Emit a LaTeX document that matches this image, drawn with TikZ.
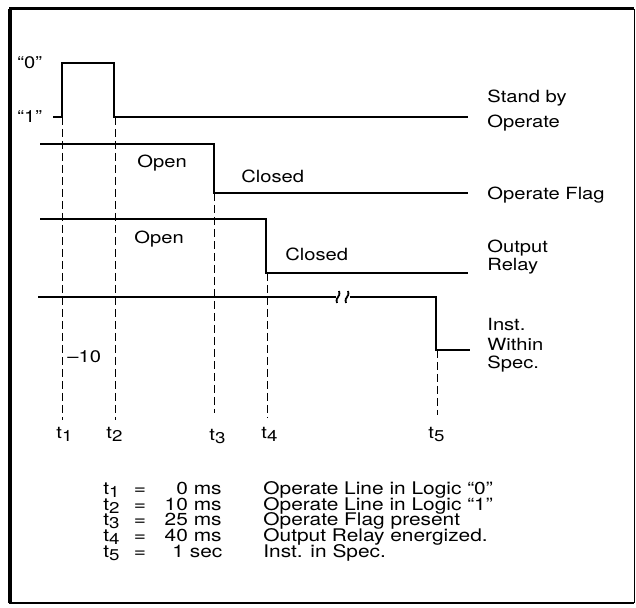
\documentclass[tikz,border=0pt]{standalone}
\usepackage{fontspec}
\setmainfont{TeX Gyre Heros}[FakeStretch=1.2]
\newcommand{\tlab}[1]{t\raisebox{-0.35ex}{\fontsize{7.8}{8}\selectfont #1}}
\begin{document}
\begin{tikzpicture}[x=0.5pt,y=-0.5pt,
	sig/.style={line width=1.2pt,line join=miter},
	guide/.style={line width=0.5pt,dash pattern=on 4pt off 2pt},
	legend/.style={font=\fontsize{8.7}{9.5}\selectfont},
	every node/.style={font=\fontsize{8.4}{9.5}\selectfont,inner sep=0pt}]
	\useasboundingbox (0,0) rectangle (636,608);
	% frame
	\draw [line width=2pt] (10,603) -- (10,9);
	\draw [line width=1.5pt] (9,9) -- (634,9);
	\draw [line width=0.5pt] (634,9) -- (634,603);
	\draw [line width=1pt] (9,603) -- (634,603);
	% signals
	\draw [sig] (53,117) -- (62,117) -- (62,63) -- (114,63) -- (114,117) -- (468,117);
	\draw [sig] (40,144) -- (214,144) -- (214,193) -- (468,193);
	\draw [sig] (40,219) -- (266,219) -- (266,273) -- (468,273);
	\draw [sig] (38,297) -- (336,297);
	\draw [sig] (350,297) -- (436,297) -- (436,350) -- (470,350);
	\draw [line width=0.9pt] (337,303) .. controls (335,296) and (341,298) .. (339,291);
	\draw [line width=0.9pt] (346,303) .. controls (344,296) and (350,298) .. (348,291);
	% time markers
	\draw [guide] (62,117) -- (62,420);\node [anchor=base west] (t1) at (56,438) {\tlab{1}};
	\draw [guide] (115,117) -- (115,420);\node [anchor=base west] (t2) at (106,438) {\tlab{2}};
	\draw [guide] (214,193) -- (214,413);\node [anchor=base west] (t3) at (209,440) {\tlab{3}};
	\draw [guide] (267,273) -- (267,418);\node [anchor=base west] (t4) at (261,438) {\tlab{4}};
	\draw [guide] (437,350) -- (437,415);\node [anchor=base west] (t5) at (428,438) {\tlab{5}};
	\node [anchor=base west] (m10) at (67,363) {--10};
	% levels and states
	\node [anchor=base west] (lvl0) at (17,69) {``0''};
	\node [anchor=base west] (lvl1) at (17,123) {``1''};
	\node [anchor=base west] (open1) at (137,168) {Open};
	\node [anchor=base west] (closed1) at (241,183) {Closed};
	\node [anchor=base west] (open2) at (134,244) {Open};
	\node [anchor=base west] (closed2) at (285,261) {Closed};
	% signal names
	\node [anchor=base west] at (487,103) {Stand by};
	\node [anchor=base west] at (487,128) {Operate};
	\node [anchor=base west] at (487,200) {Operate Flag};
	\node [anchor=base west] at (487,253) {Output};
	\node [anchor=base west] at (487,271) {Relay};
	\node [anchor=base west] at (487,331) {Inst.};
	\node [anchor=base west] at (487,351) {Within};
	\node [anchor=base west] at (487,369) {Spec.};
	% legend
	\node [legend,anchor=base west] at (103,494) {\tlab{1}};\node [legend,anchor=base] at (140,494) {=};
	\node [legend,anchor=base east] at (222,494) {0 ms};\node [legend,anchor=base west] at (263,494) {Operate Line in Logic ``0''};
	\node [legend,anchor=base west] at (103,510) {\tlab{2}};\node [legend,anchor=base] at (140,510) {=};
	\node [legend,anchor=base east] at (222,510) {10 ms};\node [legend,anchor=base west] at (263,510) {Operate Line in Logic ``1''};
	\node [legend,anchor=base west] at (103,525) {\tlab{3}};\node [legend,anchor=base] at (140,525) {=};
	\node [legend,anchor=base east] at (222,525) {25 ms};\node [legend,anchor=base west] at (263,525) {Operate Flag present};
	\node [legend,anchor=base west] at (103,541) {\tlab{4}};\node [legend,anchor=base] at (140,541) {=};
	\node [legend,anchor=base east] at (222,541) {40 ms};\node [legend,anchor=base west] at (263,541) {Output Relay energized.};
	\node [legend,anchor=base west] at (103,557) {\tlab{5}};\node [legend,anchor=base] at (140,557) {=};
	\node [legend,anchor=base west] at (172,557) {1 sec};\node [legend,anchor=base west] at (263,557) {Inst. in Spec.};
\end{tikzpicture}
\end{document}
